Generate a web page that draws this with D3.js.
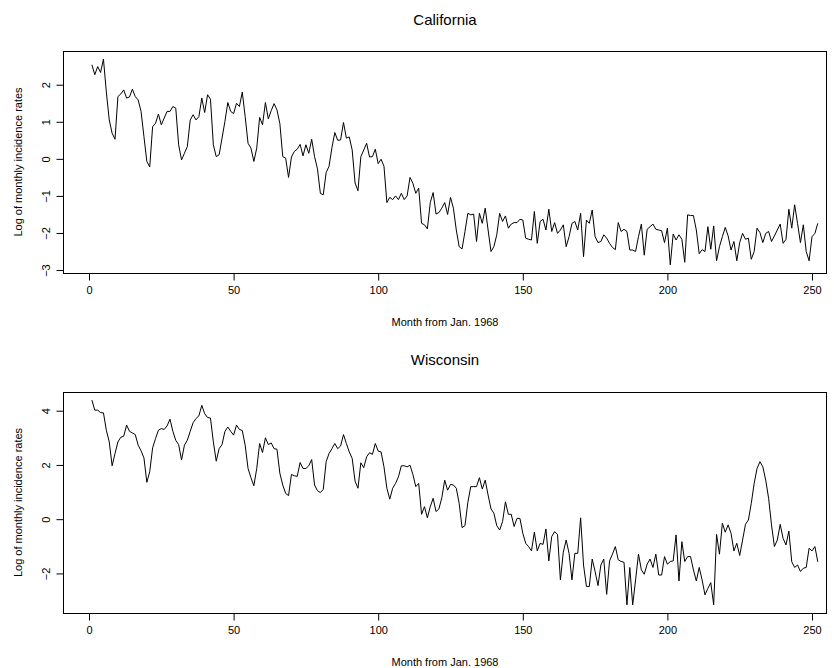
<!DOCTYPE html>
<html><head><meta charset="utf-8">
<script src="https://cdn.jsdelivr.net/npm/d3@7"></script>
<style>body{margin:0;background:#fff} text{font-family:"Liberation Sans",Arial,Helvetica,sans-serif;fill:#000}</style>
</head><body><script>
const months = d3.range(1, 253);
const california = [
 2.54, 2.27, 2.49, 2.33, 2.69, 1.8, 1.05, 0.69, 0.53, 1.68,
 1.75, 1.86, 1.64, 1.67, 1.88, 1.68, 1.59, 1.28, 0.60, -0.07,
 -0.22, 0.87, 0.96, 1.21, 0.92, 1.10, 1.28, 1.28, 1.41, 1.37,
 0.38, -0.03, 0.15, 0.33, 1.05, 1.19, 1.05, 1.14, 1.64, 1.25,
 1.73, 1.61, 0.38, 0.06, 0.11, 0.56, 1.01, 1.52, 1.28, 1.22,
 1.50, 1.41, 1.80, 1.14, 0.42, 0.29, -0.07, 0.29, 1.12, 0.92,
 1.52, 1.08, 1.30, 1.49, 1.32, 0.95, 0.06, 0.02, -0.50, 0.05,
 0.20, 0.26, 0.39, 0.08, 0.38, 0.15, 0.53, 0.06, -0.27, -0.93,
 -0.97, -0.37, -0.20, 0.30, 0.71, 0.50, 0.51, 0.98, 0.56, 0.59,
 0.24, -0.65, -0.86, 0.06, 0.24, 0.42, 0.05, 0.06, 0.26, -0.13,
 -0.01, -0.20, -1.18, -1.04, -1.10, -1.00, -1.10, -0.93, -1.10, -1.00,
 -0.50, -0.66, -0.93, -0.79, -1.74, -1.78, -1.89, -1.18, -0.91, -1.49,
 -1.45, -1.33, -1.18, -1.50, -1.04, -1.33, -1.92, -2.37, -2.43, -1.96,
 -1.47, -1.51, -1.49, -2.23, -1.47, -1.74, -1.33, -1.92, -2.50, -2.37,
 -2.05, -1.47, -1.69, -1.54, -1.87, -1.76, -1.72, -1.72, -1.63, -1.65,
 -2.14, -2.17, -2.19, -1.42, -2.28, -1.69, -1.63, -1.92, -1.36, -1.96,
 -1.72, -2.01, -1.92, -1.78, -2.37, -2.10, -1.74, -1.69, -1.92, -1.47,
 -2.64, -1.65, -1.74, -1.38, -2.10, -2.26, -2.23, -2.05, -2.14, -2.28,
 -2.39, -2.45, -1.72, -1.96, -1.90, -1.96, -2.46, -2.46, -2.50, -2.10,
 -1.76, -2.60, -1.90, -1.83, -1.76, -1.90, -1.92, -1.94, -2.26, -1.87,
 -2.86, -2.03, -2.19, -2.05, -2.17, -2.79, -1.51, -1.53, -1.53, -1.92,
 -2.56, -2.45, -2.50, -1.83, -2.44, -1.81, -2.75, -2.37, -2.10, -1.85,
 -2.08, -2.46, -2.23, -2.75, -2.26, -2.01, -2.17, -2.14, -2.71, -2.50,
 -1.87, -1.99, -2.26, -2.01, -1.96, -2.23, -2.08, -1.92, -1.76, -2.28,
 -2.17, -1.36, -1.87, -1.24, -1.74, -2.26, -1.78, -2.50, -2.75, -2.10,
 -2.01, -1.74
];
const wisconsin = [
 4.39, 4.02, 4.02, 3.93, 3.92, 3.28, 2.85, 1.97, 2.42, 2.85,
 3.02, 3.06, 3.47, 3.24, 3.18, 3.12, 2.73, 2.52, 2.26, 1.36,
 1.75, 2.63, 2.97, 3.28, 3.34, 3.31, 3.44, 3.69, 3.24, 2.91,
 2.75, 2.18, 2.73, 2.91, 3.24, 3.56, 3.71, 3.81, 4.20, 3.89,
 3.75, 3.73, 2.85, 2.14, 2.60, 2.75, 3.24, 3.40, 3.24, 3.10,
 3.47, 3.31, 3.27, 2.73, 1.87, 1.53, 1.23, 1.87, 2.79, 2.46,
 3.00, 2.75, 2.81, 2.60, 2.58, 1.69, 1.26, 0.95, 0.87, 1.65,
 1.60, 1.58, 2.09, 1.87, 1.87, 1.97, 2.20, 1.26, 1.05, 0.98,
 1.10, 2.12, 2.42, 2.60, 2.79, 2.60, 2.70, 3.12, 2.79, 2.48,
 2.24, 1.40, 1.14, 2.08, 1.90, 2.30, 2.45, 2.39, 2.79, 2.51,
 2.48, 1.93, 1.14, 0.74, 1.14, 1.32, 1.56, 1.97, 1.97, 1.93,
 1.99, 1.65, 1.20, 1.32, 0.18, 0.46, 0.05, 0.46, 0.77, 0.28,
 0.38, 0.79, 1.44, 1.07, 1.28, 1.26, 1.14, 0.58, -0.31, -0.24,
 0.62, 1.20, 1.20, 1.20, 1.53, 1.11, 1.44, 0.89, 0.38, 0.22,
 -0.24, -0.40, -0.09, 0.64, 0.18, 0.18, -0.27, 0.03, 0.03, -0.52,
 -0.89, -1.01, -1.17, -0.48, -1.17, -0.89, -0.93, -0.36, -1.54, -0.64,
 -0.46, -0.56, -2.24, -1.22, -0.77, -1.26, -2.24, -1.26, -1.26, 0.05,
 -1.69, -2.48, -2.48, -1.47, -1.93, -2.45, -1.69, -1.47, -2.77, -1.54,
 -1.29, -1.01, -1.50, -1.56, -1.59, -3.16, -1.78, -3.16, -2.24, -1.29,
 -1.87, -2.03, -1.66, -1.47, -1.78, -1.29, -2.06, -2.06, -1.38, -1.66,
 -1.56, -1.54, -0.58, -2.28, -0.83, -1.56, -1.38, -1.38, -1.87, -2.28,
 -1.78, -2.24, -2.79, -2.55, -2.34, -3.16, -0.56, -1.29, -0.15, -0.48,
 -0.21, -0.52, -1.17, -0.89, -1.34, -0.77, -0.19, -0.03, 0.58, 1.32,
 1.87, 2.12, 1.93, 1.44, 0.77, -0.21, -1.01, -0.77, -0.19, -0.71,
 -0.95, -0.44, -1.57, -1.78, -1.69, -1.93, -1.81, -1.78, -1.07, -1.17,
 -1.01, -1.57
];
const xTicks = [0, 50, 100, 150, 200, 250];
const caTicks = [-3, -2, -1, 0, 1, 2];
const wiTicks = [-2, 0, 2, 4];
const titles = ["California", "Wisconsin"];
const xLabel = "Month from Jan. 1968";
const yLabel = "Log of monthly incidence rates";

const W = 834, H = 668;
const svg = d3.select("body").append("svg").attr("width", W).attr("height", H);

const boxL = 63, boxR = 826;
const x = d3.scaleLinear().domain([0, 250]).range([89, 812]);

const panels = [
  {title: titles[0], values: california, ticks: caTicks, top: 51, bottom: 273, yDomain: [-3.08, 2.91], titleY: 25},
  {title: titles[1], values: wisconsin, ticks: wiTicks, top: 392, bottom: 613, yDomain: [-3.46, 4.69], titleY: 365}
];

panels.forEach(p => {
  const y = d3.scaleLinear().domain(p.yDomain).range([p.bottom, p.top]);
  const g = svg.append("g");

  // box
  g.append("rect").attr("x", boxL + 0.5).attr("y", p.top + 0.5)
    .attr("width", boxR - boxL).attr("height", p.bottom - p.top)
    .attr("fill", "none").attr("stroke", "#000").attr("stroke-width", 1);

  // line
  const line = d3.line().x((d, i) => x(months[i])).y(d => y(d));
  g.append("path").datum(p.values).attr("d", line)
    .attr("fill", "none").attr("stroke", "#000").attr("stroke-width", 1)
    .attr("stroke-linejoin", "round");

  // x axis
  const xa = g.append("g").attr("transform", `translate(0,${p.bottom + 0.5})`)
    .call(d3.axisBottom(x).tickValues(xTicks).tickSize(7).tickPadding(6).tickFormat(d3.format("d")));
  xa.select(".domain").attr("d", `M${x(0)},0H${x(250)}`).attr("stroke", "#000");
  xa.selectAll("text").attr("font-size", 11).attr("font-family", "Liberation Sans, Arial, sans-serif");

  // y axis
  const ya = g.append("g").attr("transform", `translate(${boxL + 0.5},0)`)
    .call(d3.axisLeft(y).tickValues(p.ticks).tickSize(7).tickFormat(d3.format("d")));
  ya.select(".domain").remove();
  ya.selectAll(".tick text")
    .attr("font-size", 11).attr("font-family", "Liberation Sans, Arial, sans-serif")
    .attr("x", null).attr("dy", null)
    .attr("text-anchor", "middle")
    .attr("transform", "translate(-14,0) rotate(-90)");

  // titles
  g.append("text").attr("x", 445).attr("y", p.titleY).attr("text-anchor", "middle")
    .attr("font-size", 15).text(p.title);
  g.append("text").attr("x", 445).attr("y", p.bottom + 53).attr("text-anchor", "middle")
    .attr("font-size", 11).text(xLabel);
  g.append("text").attr("transform", `translate(22,${(p.top + p.bottom) / 2}) rotate(-90)`)
    .attr("text-anchor", "middle").attr("font-size", 11).text(yLabel);
});
</script></body></html>
